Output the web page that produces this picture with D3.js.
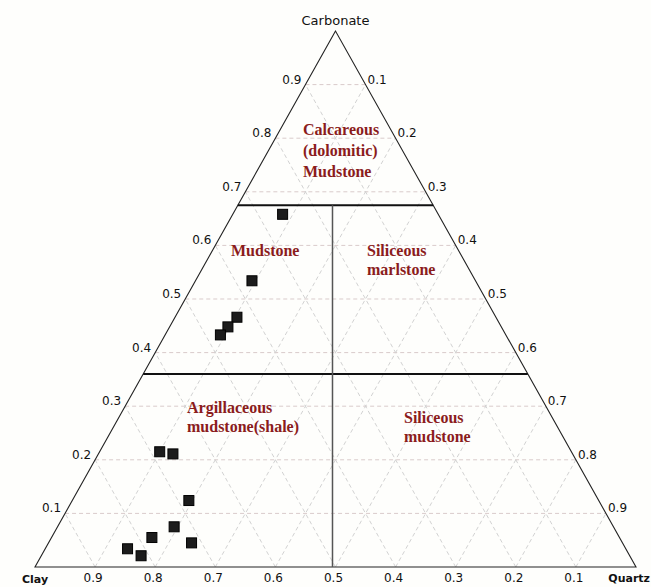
<!DOCTYPE html>
<html>
<head>
<meta charset="utf-8">
<script src="https://cdn.jsdelivr.net/npm/d3@7/dist/d3.min.js"></script>
<style>
  html, body { margin: 0; padding: 0; background: #fefefc; }
  svg { display: block; }
</style>
</head>
<body>
<svg id="chart" width="651" height="587"></svg>
<script>
// Sample compositions (fractions): carbonate, quartz, clay
const carbonate = [0.658, 0.534, 0.466, 0.448, 0.433, 0.215, 0.211, 0.124, 0.075, 0.055, 0.045, 0.034, 0.021];
const quartz    = [0.083, 0.094, 0.103, 0.097, 0.092, 0.100, 0.124, 0.194, 0.194, 0.167, 0.238, 0.137, 0.166];
const clay      = carbonate.map((c, i) => +(1 - c - quartz[i]).toFixed(3));

// Grid / tick values
const gridTicks = [0.1, 0.2, 0.3, 0.4, 0.5, 0.6, 0.7, 0.8, 0.9];

// Classification boundaries
const upperCarbonate = 0.675;   // above: calcareous (dolomitic) mudstone
const lowerCarbonate = 0.36;    // below: argillaceous / siliceous mudstone
const splitQuartz = 0.495;      // vertical divider, clay- vs quartz-rich

// Vertex and region names
const vertexNames = ["Carbonate", "Clay", "Quartz"];
const regionNames = [
  ["Calcareous", "(dolomitic)", "Mudstone"],
  ["Mudstone"],
  ["Siliceous", "marlstone"],
  ["Argillaceous", "mudstone(shale)"],
  ["Siliceous", "mudstone"]
];

// ---------- layout ----------
const svg = d3.select("#chart");
svg.append("rect").attr("width", 651).attr("height", 587).attr("fill", "#fefefc");

// x follows quartz + carbonate/2, y follows carbonate
const xs = d3.scaleLinear().domain([0, 1]).range([35, 636]);
const ys = d3.scaleLinear().domain([0, 1]).range([567, 31]);
const P = (c, q) => [xs(q + c / 2), ys(c)];

const line = d3.line();
const g = svg.append("g");

// grid: constant carbonate (horizontal)
gridTicks.forEach(t => {
  g.append("path")
    .attr("d", line([P(t, 0), P(t, 1 - t)]))
    .attr("stroke", "#d9cbcb").attr("stroke-width", 1)
    .attr("stroke-dasharray", "4 3").attr("fill", "none");
});
// grid: constant quartz
gridTicks.forEach(t => {
  g.append("path")
    .attr("d", line([P(0, t), P(1 - t, t)]))
    .attr("stroke", "#d2d2d2").attr("stroke-width", 1)
    .attr("stroke-dasharray", "4 3").attr("fill", "none");
});
// grid: constant clay
gridTicks.forEach(t => {
  g.append("path")
    .attr("d", line([P(0, 1 - t), P(1 - t, 0)]))
    .attr("stroke", "#d2d2d2").attr("stroke-width", 1)
    .attr("stroke-dasharray", "4 3").attr("fill", "none");
});

// triangle outline
g.append("path")
  .attr("d", line([P(1, 0), P(0, 0), P(0, 1)]) + "Z")
  .attr("fill", "none").attr("stroke", "#222").attr("stroke-width", 1.1);

// classification boundaries
[upperCarbonate, lowerCarbonate].forEach(c => {
  g.append("path")
    .attr("d", line([P(c, 0), P(c, 1 - c)]))
    .attr("stroke", "#111").attr("stroke-width", 2).attr("fill", "none");
});
const vx = xs(splitQuartz);
g.append("path")
  .attr("d", line([[vx, ys(upperCarbonate)], [vx, ys(0)]]))
  .attr("stroke", "#555").attr("stroke-width", 1.5).attr("fill", "none");

// tick labels
const tickFont = "'DejaVu Sans', sans-serif";
const fmt = d3.format(".1f");
gridTicks.forEach(t => {
  // left edge: carbonate
  const [lx, ly] = P(t, 0);
  g.append("text").attr("x", lx - 4).attr("y", ly - 1)
    .attr("text-anchor", "end").attr("font-family", tickFont).attr("font-size", 12)
    .attr("fill", "#111").text(fmt(t));
  // right edge: quartz
  const [rx, ry] = P(t, 1 - t);
  g.append("text").attr("x", rx + 2).attr("y", ry - 1)
    .attr("text-anchor", "start").attr("font-family", tickFont).attr("font-size", 12)
    .attr("fill", "#111").text(fmt(1 - t));
  // base: clay
  const [bx, by] = P(0, 1 - t);
  g.append("text").attr("x", bx - 2).attr("y", by + 15)
    .attr("text-anchor", "middle").attr("font-family", tickFont).attr("font-size", 12)
    .attr("fill", "#111").text(fmt(t));
});

// vertex names
const [ax, ay] = P(1, 0);
g.append("text").attr("x", ax).attr("y", ay - 6)
  .attr("text-anchor", "middle").attr("font-family", tickFont).attr("font-size", 13)
  .attr("fill", "#111").text(vertexNames[0]);
const [cx0, cy0] = P(0, 0);
g.append("text").attr("x", cx0 - 13).attr("y", cy0 + 16)
  .attr("text-anchor", "start").attr("font-family", tickFont).attr("font-size", 11)
  .attr("font-weight", "bold").attr("fill", "#111").text(vertexNames[1]);
const [qx0, qy0] = P(0, 1);
g.append("text").attr("x", 650).attr("y", qy0 + 15)
  .attr("text-anchor", "end").attr("font-family", tickFont).attr("font-size", 11)
  .attr("font-weight", "bold").attr("fill", "#111").text(vertexNames[2]);

// region labels (left-aligned blocks)
const regionAnchors = [[303, 135, 21], [231, 256, 19], [367, 256, 19], [187, 413, 19], [404, 423, 19]];
regionNames.forEach((lines, i) => {
  const [x0, y0, lh] = regionAnchors[i];
  const t = g.append("text")
    .attr("font-family", "'Liberation Serif', 'Times New Roman', serif")
    .attr("font-size", 16).attr("font-weight", "bold").attr("fill", "#8b1c1c");
  lines.forEach((s, j) => {
    t.append("tspan").attr("x", x0).attr("y", y0 + j * lh).text(s);
  });
});

// sample points
const pts = carbonate.map((c, i) => ({ c, q: quartz[i], k: clay[i] }));
const size = 10;
g.selectAll("rect.pt").data(pts).enter().append("rect")
  .attr("class", "pt")
  .attr("x", d => P(d.c, d.q)[0] - size / 2)
  .attr("y", d => P(d.c, d.q)[1] - size / 2)
  .attr("width", size).attr("height", size)
  .attr("fill", "#1c1c1c").attr("stroke", "#000").attr("stroke-width", 1);
</script>
</body>
</html>
